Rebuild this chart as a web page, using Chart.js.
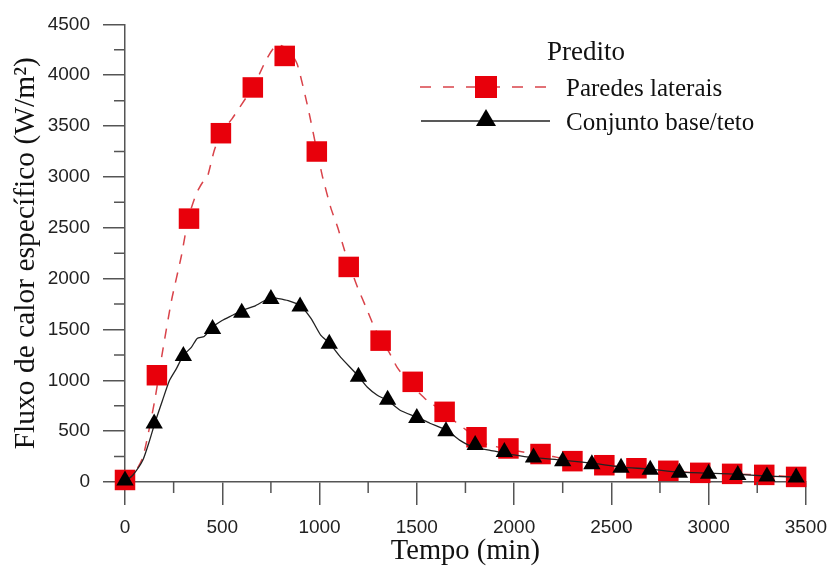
<!DOCTYPE html>
<html>
<head>
<meta charset="utf-8">
<script src="https://cdn.jsdelivr.net/npm/chart.js@4.4.0/dist/chart.umd.min.js"></script>
<style>body{margin:0;background:#fff}</style>
</head>
<body>
<canvas id="grafico" width="838" height="569"></canvas>
<script>
// curva predita - paredes laterais (linha tracejada)
var curvaParedesX = [0, 40, 92, 153, 188, 239, 290, 326, 366, 400, 422, 458, 493, 549, 621, 656, 722, 763, 795, 840, 885, 941, 992, 1017, 1058, 1094, 1129, 1160, 1196, 1246, 1282, 1320, 1358, 1399, 1450, 1500, 1552, 1603, 1653, 1700, 1755, 1842, 1943, 2076, 2200, 2310, 2472, 2630, 2793, 2956, 3124, 3291, 3450];
var curvaParedesY = [0, 60, 245, 804, 1225, 1784, 2225, 2598, 2833, 2950, 2990, 3255, 3431, 3569, 3775, 3873, 4137, 4265, 4295, 4250, 4110, 3676, 3206, 2990, 2696, 2500, 2275, 2100, 1912, 1686, 1520, 1390, 1275, 1127, 1000, 900, 804, 735, 676, 590, 510, 382, 333, 284, 250, 206, 167, 137, 108, 88, 78, 69, 50];

// curva predita - conjunto base/teto (linha continua)
var curvaBaseX = [0, 41, 92, 127, 153, 193, 229, 265, 300, 341, 371, 407, 448, 499, 549, 600, 672, 748, 789, 839, 900, 956, 1007, 1048, 1109, 1196, 1246, 1297, 1348, 1414, 1501, 1567, 1653, 1720, 1791, 1872, 1948, 2076, 2249, 2401, 2549, 2696, 2844, 2991, 3139, 3296, 3444];
var curvaBaseY = [0, 69, 216, 412, 578, 804, 1000, 1118, 1245, 1324, 1412, 1431, 1520, 1588, 1637, 1686, 1735, 1814, 1804, 1784, 1735, 1608, 1441, 1373, 1225, 1049, 931, 853, 804, 706, 637, 578, 510, 412, 343, 314, 284, 245, 216, 186, 147, 127, 98, 88, 78, 59, 49];

// marcadores
var marcParedesX = [0, 164, 329, 493, 657, 821, 986, 1150, 1314, 1479, 1643, 1807, 1971, 2136, 2300, 2464, 2629, 2793, 2957, 3121, 3286, 3450];
var marcParedesY = [20, 1050, 2590, 3430, 3880, 4190, 3250, 2115, 1390, 985, 690, 440, 330, 275, 205, 165, 135, 110, 90, 80, 70, 50];
var marcBaseX = [0, 150, 300, 450, 600, 750, 900, 1050, 1200, 1350, 1500, 1650, 1800, 1950, 2100, 2250, 2400, 2550, 2700, 2850, 3000, 3150, 3300, 3450];
var marcBaseY = [15, 575, 1240, 1505, 1665, 1800, 1725, 1360, 1035, 810, 630, 500, 365, 295, 240, 205, 175, 140, 120, 90, 80, 70, 55, 45];

// ticks dos eixos
var ticksX = [0, 500, 1000, 1500, 2000, 2500, 3000, 3500];
var ticksY = [0, 500, 1000, 1500, 2000, 2500, 3000, 3500, 4000, 4500];
var ticksMenoresX = [250, 750, 1250, 1750, 2250, 2750, 3250];
var ticksMenoresY = [250, 750, 1250, 1750, 2250, 2750, 3250, 3750, 4250];

var corVermelho = '#e8000b';
var corLinhaVermelha = '#d9434a';
var corEixo = '#555555';

function pontos(xs, ys){
  var p = [];
  for (var i = 0; i < xs.length; i++) {
    p.push({x: xs[i], y: ys[i]});
  }
  return p;
}

// ticks menores (mais curtos)
var tracosMenores = {
  id: 'tracosMenores',
  afterDraw: function(chart){
    var ctx = chart.ctx, area = chart.chartArea;
    var sx = chart.scales.x, sy = chart.scales.y;
    ctx.save();
    ctx.strokeStyle = corEixo;
    ctx.lineWidth = 1.5;
    ctx.beginPath();
    ticksMenoresX.forEach(function(v){
      var px = sx.getPixelForValue(v);
      ctx.moveTo(px, area.bottom);
      ctx.lineTo(px, area.bottom + 11);
    });
    ticksMenoresY.forEach(function(v){
      var py = sy.getPixelForValue(v);
      ctx.moveTo(area.left, py);
      ctx.lineTo(area.left - 11, py);
    });
    ctx.stroke();
    ctx.restore();
  }
};

// legenda desenhada a mao
var legenda = {
  id: 'legenda',
  afterDraw: function(chart){
    var ctx = chart.ctx;
    ctx.save();
    ctx.fillStyle = '#111';
    ctx.textBaseline = 'alphabetic';
    ctx.font = '27px "Liberation Serif"';
    ctx.fillText('Predito', 547, 60);
    ctx.font = '25px "Liberation Serif"';
    ctx.fillText('Paredes laterais', 566, 96);
    ctx.fillText('Conjunto base/teto', 566, 130);

    // linha tracejada + quadrado
    ctx.strokeStyle = corLinhaVermelha;
    ctx.lineWidth = 1.5;
    ctx.setLineDash([11, 12]);
    ctx.beginPath();
    ctx.moveTo(420, 87);
    ctx.lineTo(550, 87);
    ctx.stroke();
    ctx.setLineDash([]);
    ctx.fillStyle = corVermelho;
    ctx.fillRect(475, 76, 22, 22);

    // linha continua + triangulo
    ctx.strokeStyle = '#222';
    ctx.lineWidth = 1.3;
    ctx.beginPath();
    ctx.moveTo(421, 121);
    ctx.lineTo(550, 121);
    ctx.stroke();
    ctx.fillStyle = '#000';
    ctx.beginPath();
    ctx.moveTo(486, 109);
    ctx.lineTo(496, 126);
    ctx.lineTo(476, 126);
    ctx.closePath();
    ctx.fill();
    ctx.restore();
  }
};

var grafico = new Chart(document.getElementById('grafico'), {
  type: 'scatter',
  data: {
    datasets: [{
      label: 'marcBase',
      data: pontos(marcBaseX, marcBaseY),
      pointStyle: 'triangle',
      pointRadius: 10,
      pointBackgroundColor: '#000',
      pointBorderColor: '#000',
      pointBorderWidth: 0,
      showLine: false,
      order: 0
    }, {
      label: 'curvaBase',
      data: pontos(curvaBaseX, curvaBaseY),
      showLine: true,
      borderColor: '#222',
      borderWidth: 1.3,
      pointRadius: 0,
      tension: 0.2,
      order: 1
    }, {
      label: 'marcParedes',
      data: pontos(marcParedesX, marcParedesY),
      pointStyle: 'rect',
      pointRadius: 14.5,
      pointBackgroundColor: corVermelho,
      pointBorderColor: corVermelho,
      pointBorderWidth: 0,
      showLine: false,
      order: 2
    }, {
      label: 'curvaParedes',
      data: pontos(curvaParedesX, curvaParedesY),
      showLine: true,
      borderColor: corLinhaVermelha,
      borderWidth: 1.5,
      borderDash: [10, 9],
      pointRadius: 0,
      tension: 0.2,
      order: 3
    }]
  },
  options: {
    responsive: false,
    animation: false,
    clip: false,
    layout: {
      padding: {top: 23, right: 25, left: 0, bottom: 0}
    },
    plugins: {
      legend: {display: false},
      tooltip: {enabled: false}
    },
    scales: {
      x: {
        type: 'linear',
        min: 0,
        max: 3500,
        afterBuildTicks: function(scale){
          scale.ticks = ticksX.map(function(v){ return {value: v}; });
        },
        afterFit: function(scale){ scale.height = 87; },
        grid: {
          drawOnChartArea: false,
          drawTicks: true,
          tickLength: 23,
          color: corEixo,
          lineWidth: 1.5
        },
        border: {color: corEixo, width: 1.5},
        ticks: {
          padding: 11,
          color: '#222',
          font: {family: '"Liberation Sans"', size: 19},
          maxRotation: 0,
          callback: function(v){ return String(v); }
        },
        title: {
          display: true,
          text: 'Tempo (min)',
          color: '#111',
          font: {family: '"Liberation Serif"', size: 28.5},
          padding: {top: 3, bottom: 0}
        }
      },
      y: {
        type: 'linear',
        min: 0,
        max: 4500,
        afterBuildTicks: function(scale){
          scale.ticks = ticksY.map(function(v){ return {value: v}; });
        },
        afterFit: function(scale){ scale.width = 125; },
        grid: {
          drawOnChartArea: false,
          drawTicks: true,
          tickLength: 22,
          color: corEixo,
          lineWidth: 1.5
        },
        border: {color: corEixo, width: 1.5},
        ticks: {
          padding: 13,
          color: '#222',
          font: {family: '"Liberation Sans"', size: 19},
          callback: function(v){ return String(v); }
        },
        title: {
          display: true,
          text: 'Fluxo de calor específico (W/m²)',
          color: '#111',
          font: {family: '"Liberation Serif"', size: 29.5},
          padding: {top: 9, bottom: 0}
        }
      }
    }
  },
  plugins: [tracosMenores, legenda]
});
</script>
</body>
</html>
